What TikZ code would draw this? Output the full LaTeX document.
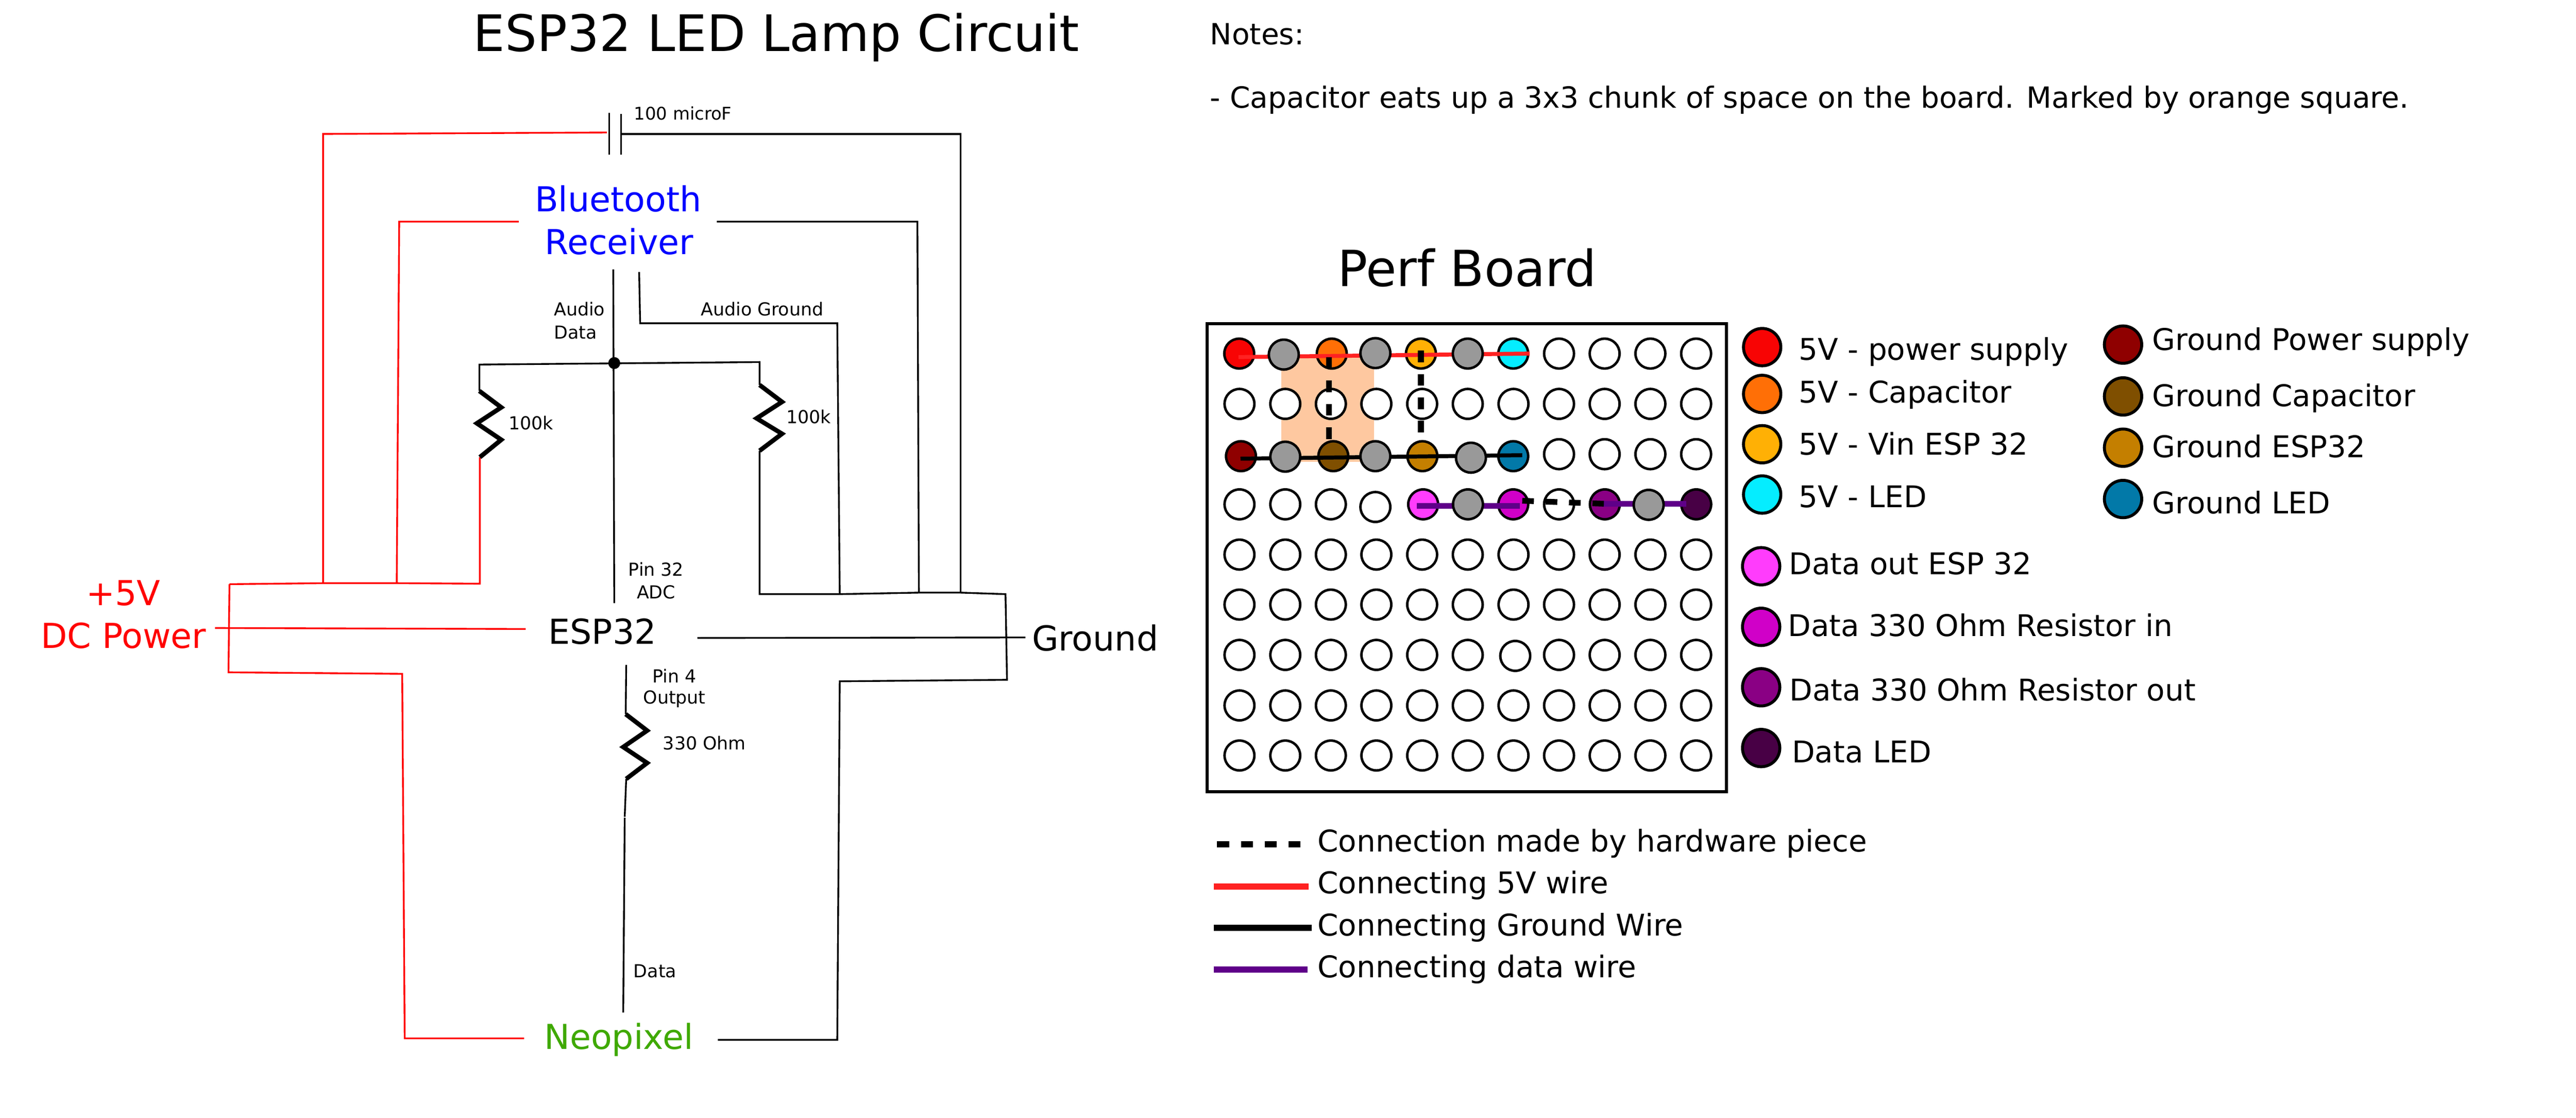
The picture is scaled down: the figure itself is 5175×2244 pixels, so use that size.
\documentclass[tikz,border=0pt]{standalone}
\usepackage{fontspec}
\setmainfont{DejaVu Sans}
\definecolor{wred}{HTML}{FF0000}
\definecolor{lred}{HTML}{FF2222}
\definecolor{lpurple}{HTML}{5F0089}
\definecolor{capsq}{HTML}{FEC8A0}
\definecolor{cred}{HTML}{F80404}
\definecolor{corange}{HTML}{FF6F06}
\definecolor{camber}{HTML}{FFB005}
\definecolor{ccyan}{HTML}{05EDFF}
\definecolor{cdred}{HTML}{8F0000}
\definecolor{cbrown}{HTML}{7F4F00}
\definecolor{cochre}{HTML}{C47F00}
\definecolor{cblue}{HTML}{0279A8}
\definecolor{cpink}{HTML}{FF3CFC}
\definecolor{cmag}{HTML}{D000C8}
\definecolor{cpurple}{HTML}{8A0084}
\definecolor{cdark}{HTML}{480045}
\definecolor{cgray}{HTML}{999999}
\newcommand{\fsz}[1]{\fontsize{#1}{#1}\selectfont}
\tikzset{
  txt/.style={inner sep=0pt,outer sep=0pt,anchor=base west,font=\fsz{60}},
  txtc/.style={inner sep=0pt,outer sep=0pt,anchor=base,font=\fsz{36}},
  small/.style={inner sep=0pt,outer sep=0pt,anchor=base west,font=\fsz{36}},
  big/.style={inner sep=0pt,outer sep=0pt,anchor=base,font=\fsz{69}},
  rwire/.style={draw=wred,line width=3.5pt,line join=miter},
  bwire/.style={draw=black,line width=3.5pt,line join=miter},
  zig/.style={draw=black,line width=9pt,line join=miter},
  hole/.style={circle,draw=black,fill=white,line width=5pt,minimum size=60pt,inner sep=0pt},
  dot/.style={circle,draw=black,line width=6pt,minimum size=75pt,inner sep=0pt},
  tie/.style={line width=8pt},
  hw/.style={line width=11.5pt,draw=black,dash pattern=on 23.5pt off 23.5pt},
  lgd/.style={line width=12pt},
  x=1pt,y=-1pt
}
\begin{document}
\begin{tikzpicture}
\useasboundingbox (0,0) rectangle (5175,2244);
\fill[white] (0,0) rectangle (5175,2244);

% ---- titles and notes
\node[txt,font=\fsz{101}] (title) at (951,103) {ESP32 LED Lamp Circuit};
\node[txt,font=\fsz{58.6}] (notes) at (2431,90) {Notes:};
\node[txt,font=\fsz{58.6}] (note1) at (2431,217) {- Capacitor eats up a 3x3 chunk of space on the board. Marked by orange square.};
\node[txt,font=\fsz{100}] (perf) at (2687,575) {Perf Board};

% ---- circuit labels
\node[big,text=blue] (bt1) at (1242,425) {Bluetooth};
\node[big,text=blue] (bt2) at (1244,511) {Receiver};
\node[big,text=wred] (p5v) at (248,1216) {+5V};
\node[big,text=wred] (dc) at (248,1302) {DC Power};
\node[big] (esp) at (1210,1293) {ESP32};
\node[big] (gnd) at (2200,1307) {Ground};
\node[big,text={rgb,255:red,63;green,169;blue,0}] (neo) at (1243,2107) {Neopixel};
\node[small,font=\fsz{35}] (cap) at (1274,241) {100 microF};
\node[small] (ad1) at (1113,634) {Audio};
\node[small] (ad2) at (1113,680) {Data};
\node[small] (ag) at (1408,634) {Audio Ground};
\node[small] (rl) at (1022,863) {100k};
\node[small] (rr) at (1580,850) {100k};
\node[txtc] (p32) at (1318,1157) {Pin 32};
\node[txtc] (adc) at (1318,1202) {ADC};
\node[txtc] (p4) at (1355,1371) {Pin 4};
\node[txtc] (out) at (1355,1413) {Output};
\node[small] (ohm) at (1332,1505) {330 Ohm};
\node[small] (dat) at (1273,1963) {Data};

% ---- circuit coordinates
\coordinate (rb1) at (461,1173); \coordinate (rb2) at (649,1171);
\coordinate (rb3) at (797,1171); \coordinate (rb4) at (964,1172);
\coordinate (rb5) at (459,1350); \coordinate (rb6) at (808,1353);
\coordinate (rb7) at (813,2085); \coordinate (rb8) at (1053,2085);
\coordinate (rt1) at (649,269); \coordinate (rt2) at (1219,266);
\coordinate (rm1) at (802,445); \coordinate (rm2) at (1042,445);
\coordinate (rd1) at (432,1261); \coordinate (rd2) at (1056,1263);
\coordinate (gb1) at (1526,1193); \coordinate (gb2) at (1687,1193);
\coordinate (gb3) at (1846,1190); \coordinate (gb4) at (1930,1190);
\coordinate (gb5) at (2020,1193); \coordinate (gb6) at (2023,1365);
\coordinate (gb7) at (1687,1368); \coordinate (gb8) at (1682,2088);
\coordinate (gb9) at (1442,2088);
\coordinate (gt1) at (1248,269); \coordinate (gt2) at (1930,269);
\coordinate (gm1) at (1440,445); \coordinate (gm2) at (1843,445);
\coordinate (ga1) at (1284,546); \coordinate (ga2) at (1286,649); \coordinate (ga3) at (1682,649);
\coordinate (gd1) at (1401,1281); \coordinate (gd2) at (2060,1280);
\coordinate (au1) at (1232,541); \coordinate (au2) at (1234,1211);
\coordinate (j) at (1234,729);
\coordinate (brl) at (963,732); \coordinate (brr) at (1526,727);
\coordinate (capa1) at (1224,227); \coordinate (capa2) at (1224,310);
\coordinate (capb1) at (1248,229); \coordinate (capb2) at (1248,310);
\coordinate (p4a) at (1258,1335); \coordinate (p4b) at (1257,1434);
\coordinate (p4c) at (1258,1564); \coordinate (p4d) at (1255,1640);
\coordinate (p4e) at (1255,1642); \coordinate (p4f) at (1252,2033);
\coordinate (rla) at (963,785); \coordinate (rlb) at (964,918);
\coordinate (rra) at (1526,773); \coordinate (rrb) at (1526,905);

% ---- red wires
\path[rwire] (rt2) -- (rt1) -- (rb2);
\path[rwire] (rm2) -- (rm1) -- (rb3);
\path[rwire] (rb1) -- (rb2) -- (rb3) -- (rb4) -- (rlb);
\path[rwire] (rb1) -- (rb5) -- (rb6) -- (rb7) -- (rb8);
\path[rwire] (rd1) -- (rd2);

% ---- black wires
\path[bwire] (gt1) -- (gt2) -- (gb4);
\path[bwire] (gm1) -- (gm2) -- (gb3);
\path[bwire] (ga1) -- (ga2) -- (ga3) -- (gb2);
\path[bwire] (rra) -- (brr) -- (brl) -- (rla);
\path[bwire] (rrb) -- (gb1) -- (gb2) -- (gb3) -- (gb4) -- (gb5) -- (gb6) -- (gb7) -- (gb8) -- (gb9);
\path[bwire] (gd1) -- (gd2);
\path[bwire] (au1) -- (au2);
\draw[line width=3pt] (capa1) -- (capa2);
\draw[line width=3pt] (capb1) -- (capb2);
\path[bwire] (p4a) -- (p4b);
\path[bwire] (p4c) -- (p4d);
\path[bwire] (p4e) -- (p4f);
\fill (j) circle (12pt);

% ---- resistors
\path[zig] (rla) -- (1007,818) -- (958,850) -- (1007,883) -- (rlb);
\path[zig] (rra) -- (1571,807) -- (1520,840) -- (1571,871) -- (rrb);
\path[zig] (p4b) -- (1300,1467) -- (1252,1500) -- (1300,1532) -- (p4c);

% ---- perf board
\draw[line width=6pt] (2425,650) rectangle (3468,1590);
\fill[capsq] (2574,716) rectangle (2760,927);

% white holes
\foreach \r/\y in {2/811,5/1113.6,6/1214,8/1416.5,9/1517}
  \foreach \c/\x in {1/2490,2/2582,3/2673.6,4/2765,5/2857,6/2948.6,7/3040.5,8/3132,9/3223.6,10/3315.5,11/3407.4}
    \node[hole] (h\r-\c) at (\x,\y) {};
\foreach \c/\x in {1/2490,2/2582,3/2673.6,4/2765,5/2857,6/2948.6,8/3132,9/3223.6,10/3315.5,11/3407.4}
  \node[hole] (h7-\c) at (\x,1315) {};
\node[hole] (h7-7) at (3044,1317) {};
\foreach \c/\x in {8/3132,9/3223.6,10/3315.5,11/3407.4} {
  \node[hole] (h1-\c) at (\x,710) {};
  \node[hole] (h3-\c) at (\x,912) {};
}
\foreach \c/\x in {1/2490,2/2582,3/2673.6} \node[hole] (h4-\c) at (\x,1012.7) {};
\node[hole] (h4-4) at (2763,1018) {};
\node[hole] (h4-8) at (3132,1012.7) {};

% coloured holes
\node[hole,fill=cred] (a1) at (2489.5,710) {};
\node[hole,fill=corange] (a3) at (2675.4,710) {};
\node[hole,fill=camber] (a5) at (2854.5,710) {};
\node[hole,fill=ccyan] (a7) at (3040,710) {};
\node[hole,fill=cdred] (c1) at (2493,916) {};
\node[hole,fill=cbrown] (c3) at (2678.5,916) {};
\node[hole,fill=cochre] (c5) at (2857.5,916) {};
\node[hole,fill=cblue] (c7) at (3040,916) {};
\node[hole,fill=cpink] (d5) at (2859,1012.7) {};
\node[hole,fill=cmag] (d7) at (3040,1012.7) {};
\node[hole,fill=cpurple] (d9) at (3224,1012.7) {};
\node[hole,fill=cdark] (d11) at (3407.6,1012.7) {};

% board wires
\coordinate (t1a) at (2488,717); \coordinate (t1b) at (3073,710);
\coordinate (t3a) at (2492,921); \coordinate (t3b) at (3058,914);
\coordinate (t4a) at (2846,1016); \coordinate (t4b) at (3053,1016);
\coordinate (t4c) at (3222,1012); \coordinate (t4d) at (3387,1012);
\draw[tie,lred] (t1a) -- (t1b);
\draw[tie,black] (t3a) -- (t3b);
\draw[line width=11.5pt,lpurple] (t4a) -- (t4b);
\draw[line width=11.5pt,lpurple] (t4c) -- (t4d);

% grey holes above the wires
\node[hole,fill=cgray] (a2) at (2579,712) {};
\node[hole,fill=cgray] (a4) at (2763,709) {};
\node[hole,fill=cgray] (a6) at (2948.6,710) {};
\node[hole,fill=cgray] (c2) at (2582,917) {};
\node[hole,fill=cgray] (c4) at (2763,916) {};
\node[hole,fill=cgray] (c6) at (2955,919) {};
\node[hole,fill=cgray] (d6) at (2949,1012.7) {};
\node[hole,fill=cgray] (d10) at (3312,1013.7) {};

% hardware connections
\coordinate (v1a) at (2670,717); \coordinate (v1b) at (2670,882);
\coordinate (v2a) at (2854.5,704); \coordinate (v2b) at (2854.5,869);
\coordinate (v3a) at (3058,1005.5); \coordinate (v3b) at (3222,1011.5);
\draw[hw] (v1a) -- (v1b);
\draw[hw] (v2a) -- (v2b);
\draw[hw] (v3a) -- (v3b);

% ---- colour key
\node[dot,fill=cred] (k1) at (3540,697) {};
\node[dot,fill=corange] (k2) at (3540,791) {};
\node[dot,fill=camber] (k3) at (3540,892) {};
\node[dot,fill=ccyan] (k4) at (3540,993) {};
\node[dot,fill=cdred] (k5) at (4265,692) {};
\node[dot,fill=cbrown] (k6) at (4265,796) {};
\node[dot,fill=cochre] (k7) at (4265,899) {};
\node[dot,fill=cblue] (k8) at (4265,1002) {};
\node[dot,fill=cpink] (k9) at (3538,1137) {};
\node[dot,fill=cmag] (k10) at (3538,1258.7) {};
\node[dot,fill=cpurple] (k11) at (3538,1380) {};
\node[dot,fill=cdark] (k12) at (3538,1502) {};
\node[txt] (kt1) at (3614,723) {5V - power supply};
\node[txt] (kt2) at (3614,809) {5V - Capacitor};
\node[txt] (kt3) at (3614,913) {5V - Vin ESP 32};
\node[txt] (kt4) at (3614,1019) {5V - LED};
\node[txt] (kt5) at (4324,703) {Ground Power supply};
\node[txt] (kt6) at (4324,816) {Ground Capacitor};
\node[txt] (kt7) at (4324,919) {Ground ESP32};
\node[txt] (kt8) at (4324,1031) {Ground LED};
\node[txt] (kt9) at (3594,1153) {Data out ESP 32};
\node[txt] (kt10) at (3592,1278) {Data 330 Ohm Resistor in};
\node[txt] (kt11) at (3595,1407) {Data 330 Ohm Resistor out};
\node[txt] (kt12) at (3600,1531) {Data LED};

% ---- line key
\coordinate (l1a) at (2445,1695); \coordinate (l1b) at (2612,1695);
\coordinate (l2a) at (2438,1780); \coordinate (l2b) at (2629,1780);
\coordinate (l3a) at (2438,1863); \coordinate (l3b) at (2635,1863);
\coordinate (l4a) at (2438,1947); \coordinate (l4b) at (2627,1947);
\draw[line width=12pt,dash pattern=on 24pt off 24pt] (l1a) -- (l1b);
\draw[lgd,lred] (l2a) -- (l2b);
\draw[lgd,black] (l3a) -- (l3b);
\draw[lgd,lpurple] (l4a) -- (l4b);
\node[txt] (lt1) at (2647,1710) {Connection made by hardware piece};
\node[txt] (lt2) at (2647,1794) {Connecting 5V wire};
\node[txt] (lt3) at (2647,1879) {Connecting Ground Wire};
\node[txt] (lt4) at (2647,1963) {Connecting data wire};
\end{tikzpicture}
\end{document}
